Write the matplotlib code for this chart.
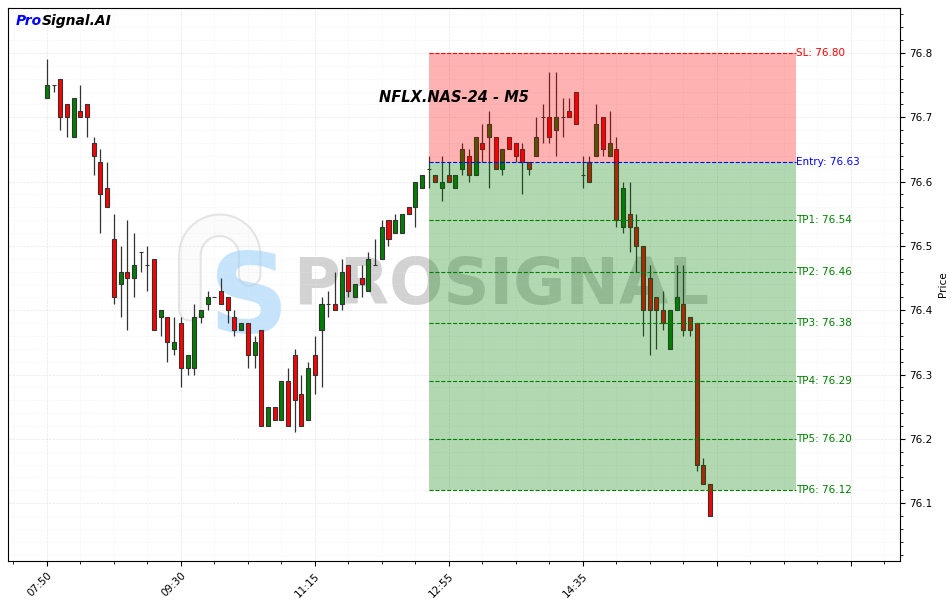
import matplotlib
matplotlib.use("Agg")
import matplotlib.pyplot as plt
from matplotlib.patches import Rectangle
from matplotlib.ticker import MultipleLocator, FixedLocator, FixedFormatter
import numpy as np

# ---------------- data ----------------
opens = [76.73, 76.75, 76.76, 76.72, 76.67, 76.71, 76.72, 76.66, 76.63, 76.59,
         76.51, 76.44, 76.46, 76.45, 76.49, 76.47, 76.48, 76.39, 76.39, 76.34,
         76.38, 76.31, 76.31, 76.39, 76.41, 76.42, 76.43, 76.42, 76.39, 76.37,
         76.38, 76.33, 76.37, 76.22, 76.25, 76.23, 76.29, 76.33, 76.27, 76.23,
         76.33, 76.37, 76.41, 76.41, 76.41, 76.47, 76.42, 76.45, 76.43, 76.47,
         76.48, 76.54, 76.52, 76.52, 76.56, 76.56, 76.59, 76.62, 76.61, 76.59,
         76.61, 76.59, 76.62, 76.64, 76.61, 76.66, 76.67, 76.67, 76.62, 76.67,
         76.66, 76.65, 76.63, 76.64, 76.70, 76.70, 76.68, 76.70, 76.71, 76.74,
         76.61, 76.63, 76.64, 76.70, 76.64, 76.65, 76.53, 76.55, 76.53, 76.50,
         76.45, 76.42, 76.40, 76.34, 76.40, 76.41, 76.39, 76.38, 76.16, 76.13]
highs = [76.79, 76.75, 76.76, 76.72, 76.73, 76.75, 76.72, 76.67, 76.65, 76.63,
         76.55, 76.50, 76.54, 76.52, 76.49, 76.50, 76.48, 76.40, 76.39, 76.39,
         76.39, 76.33, 76.41, 76.40, 76.43, 76.42, 76.45, 76.42, 76.40, 76.38,
         76.38, 76.36, 76.37, 76.25, 76.25, 76.29, 76.31, 76.34, 76.30, 76.32,
         76.36, 76.42, 76.43, 76.46, 76.48, 76.47, 76.44, 76.47, 76.49, 76.51,
         76.54, 76.54, 76.55, 76.55, 76.56, 76.60, 76.61, 76.64, 76.61, 76.64,
         76.63, 76.61, 76.66, 76.65, 76.67, 76.69, 76.71, 76.67, 76.65, 76.67,
         76.66, 76.66, 76.63, 76.70, 76.72, 76.77, 76.77, 76.73, 76.73, 76.74,
         76.64, 76.64, 76.72, 76.70, 76.71, 76.67, 76.60, 76.60, 76.55, 76.50,
         76.47, 76.42, 76.43, 76.40, 76.47, 76.47, 76.39, 76.38, 76.17, 76.13]
lows = [76.73, 76.74, 76.68, 76.67, 76.67, 76.70, 76.67, 76.61, 76.52, 76.56,
        76.41, 76.39, 76.37, 76.42, 76.46, 76.43, 76.37, 76.36, 76.32, 76.33,
        76.28, 76.30, 76.30, 76.38, 76.40, 76.42, 76.41, 76.38, 76.36, 76.37,
        76.31, 76.31, 76.22, 76.22, 76.23, 76.23, 76.22, 76.21, 76.22, 76.23,
        76.27, 76.28, 76.39, 76.40, 76.40, 76.42, 76.42, 76.42, 76.43, 76.47,
        76.48, 76.50, 76.52, 76.52, 76.55, 76.53, 76.59, 76.59, 76.60, 76.57,
        76.60, 76.59, 76.61, 76.60, 76.61, 76.63, 76.59, 76.62, 76.61, 76.65,
        76.63, 76.58, 76.61, 76.64, 76.66, 76.66, 76.64, 76.67, 76.70, 76.69,
        76.59, 76.60, 76.64, 76.64, 76.64, 76.53, 76.52, 76.49, 76.46, 76.36,
        76.33, 76.34, 76.37, 76.34, 76.40, 76.36, 76.36, 76.15, 76.13, 76.08]
closes = [76.75, 76.75, 76.70, 76.70, 76.73, 76.70, 76.70, 76.64, 76.58, 76.56,
          76.42, 76.46, 76.45, 76.47, 76.49, 76.47, 76.37, 76.40, 76.35, 76.35,
          76.31, 76.33, 76.39, 76.40, 76.42, 76.42, 76.41, 76.40, 76.37, 76.38,
          76.33, 76.35, 76.22, 76.25, 76.23, 76.29, 76.22, 76.26, 76.22, 76.31,
          76.30, 76.41, 76.41, 76.40, 76.46, 76.43, 76.44, 76.44, 76.48, 76.47,
          76.53, 76.51, 76.54, 76.55, 76.55, 76.60, 76.61, 76.62, 76.60, 76.60,
          76.60, 76.61, 76.65, 76.61, 76.67, 76.65, 76.69, 76.62, 76.65, 76.65,
          76.64, 76.63, 76.62, 76.67, 76.70, 76.67, 76.70, 76.70, 76.70, 76.69,
          76.61, 76.60, 76.69, 76.65, 76.66, 76.54, 76.59, 76.53, 76.50, 76.40,
          76.40, 76.40, 76.38, 76.40, 76.42, 76.37, 76.37, 76.16, 76.13, 76.08]

tick_positions = [0, 20, 40, 60, 80, 100, 120]
tick_labels = ["07:50", "09:30", "11:15", "12:55", "14:35", "", ""]

symbol_title = "NFLX.NAS-24 - M5"
zone_start = 57
zone_end = 111.9
sl_level = 76.80
entry_level = 76.63
tp_names = ["TP1", "TP2", "TP3", "TP4", "TP5", "TP6"]
tp_levels = [76.54, 76.46, 76.38, 76.29, 76.20, 76.12]

# ---------------- figure ----------------
fig = plt.figure(figsize=(9.5, 6.03), dpi=100)
ax = fig.add_axes([0.0084, 0.0697, 0.9386, 0.917])

# watermark
ax.text(0.553, 0.497, "PROSIGNAL", transform=ax.transAxes, fontsize=46,
        fontweight="bold", color="gray", alpha=0.35, ha="center", va="center",
        zorder=0.5)
# faint arch of the logo
theta = np.linspace(np.pi, 0, 60)
cx, cy, rx, ry = 0.2375, 0.553, 0.0335, 0.054
arch_x = np.concatenate([[cx - rx], cx + rx * np.cos(theta), [cx + rx]])
arch_y = np.concatenate([[0.454], cy + ry * np.sin(theta), [0.517]])
ax.plot(arch_x, arch_y, transform=ax.transAxes, color="#e4e4e4", linewidth=17,
        solid_capstyle="round", solid_joinstyle="round", zorder=0.3)
ax.plot(arch_x, arch_y, transform=ax.transAxes, color="#fbfbfb", linewidth=14,
        solid_capstyle="round", solid_joinstyle="round", zorder=0.31)
ax.text(0.27, 0.47, "S", transform=ax.transAxes, fontsize=80,
        fontweight="bold", color="#9fd3fa", alpha=0.6, ha="center", va="center",
        zorder=0.4)

# candles
w = 0.6
for i, (o, h, l, c) in enumerate(zip(opens, highs, lows, closes)):
    col = "green" if c >= o else "red"
    ax.vlines(i, l, h, color="#333333", linewidth=0.9, zorder=2)
    bottom = min(o, c)
    height = abs(c - o)
    ax.add_patch(Rectangle((i - w / 2, bottom), w, height, facecolor=col,
                           edgecolor="#333333", linewidth=0.8, zorder=3))

# zones
ax.add_patch(Rectangle((zone_start, entry_level), zone_end - zone_start,
                       sl_level - entry_level, facecolor="red", alpha=0.3,
                       edgecolor="none", zorder=4))
ax.add_patch(Rectangle((zone_start, tp_levels[-1]), zone_end - zone_start,
                       entry_level - tp_levels[-1], facecolor="green", alpha=0.3,
                       edgecolor="none", zorder=4))

# level lines
ax.hlines(sl_level, zone_start, zone_end, colors="red", linestyles="--",
          linewidth=0.8, zorder=5)
ax.text(zone_end, sl_level, f"SL: {sl_level:.2f}", color="red", fontsize=7.5,
        va="center", ha="left", zorder=6)
ax.hlines(entry_level, zone_start, zone_end, colors="blue", linestyles="--",
          linewidth=0.8, zorder=5)
ax.text(zone_end, entry_level, f"Entry: {entry_level:.2f}", color="blue",
        fontsize=7.5, va="center", ha="left", zorder=6)
for name, lvl in zip(tp_names, tp_levels):
    ax.hlines(lvl, zone_start, zone_end, colors="green", linestyles="--",
              linewidth=0.8, zorder=5)
    ax.text(zone_end, lvl, f"{name}: {lvl:.2f}", color="green", fontsize=7.5,
            va="center", ha="left", zorder=6)

# titles
ax.text(0.5, 0.838, symbol_title, transform=ax.transAxes, fontsize=10.5,
        fontweight="bold", fontstyle="italic", ha="center", va="center",
        zorder=7)
t1 = ax.text(0.009, 0.977, "Pro", transform=ax.transAxes, fontsize=10,
             fontweight="bold", fontstyle="italic", color="blue", ha="left",
             va="center", zorder=7)
fig.canvas.draw()
bb = t1.get_window_extent()
inv = ax.transAxes.inverted()
x_end = inv.transform((bb.x1, bb.y0))[0]
ax.text(x_end, 0.977, "Signal.AI", transform=ax.transAxes, fontsize=10,
        fontweight="bold", fontstyle="italic", color="black", ha="left",
        va="center", zorder=7)

# axes
ax.set_xlim(-5.8, 127.3)
ax.set_ylim(76.010, 76.870)
ax.xaxis.set_major_locator(FixedLocator(tick_positions))
ax.xaxis.set_major_formatter(FixedFormatter(tick_labels))
ax.xaxis.set_minor_locator(MultipleLocator(5))
ax.yaxis.set_major_locator(MultipleLocator(0.1))
ax.yaxis.set_minor_locator(MultipleLocator(0.02))
ax.yaxis.tick_right()
ax.yaxis.set_label_position("right")
ax.set_ylabel("Price", fontsize=7.5)
ax.tick_params(axis="both", which="major", labelsize=7.5)
plt.setp(ax.get_xticklabels(), rotation=45, ha="right", rotation_mode="anchor")
ax.grid(True, which="major", color="#dddddd", linestyle="--", linewidth=0.5,
        alpha=0.7, zorder=0)
ax.grid(True, which="minor", color="#e8e8e8", linestyle="--", linewidth=0.4,
        alpha=0.5, zorder=0)
ax.set_axisbelow(True)

fig.savefig("out.png", dpi=100)
